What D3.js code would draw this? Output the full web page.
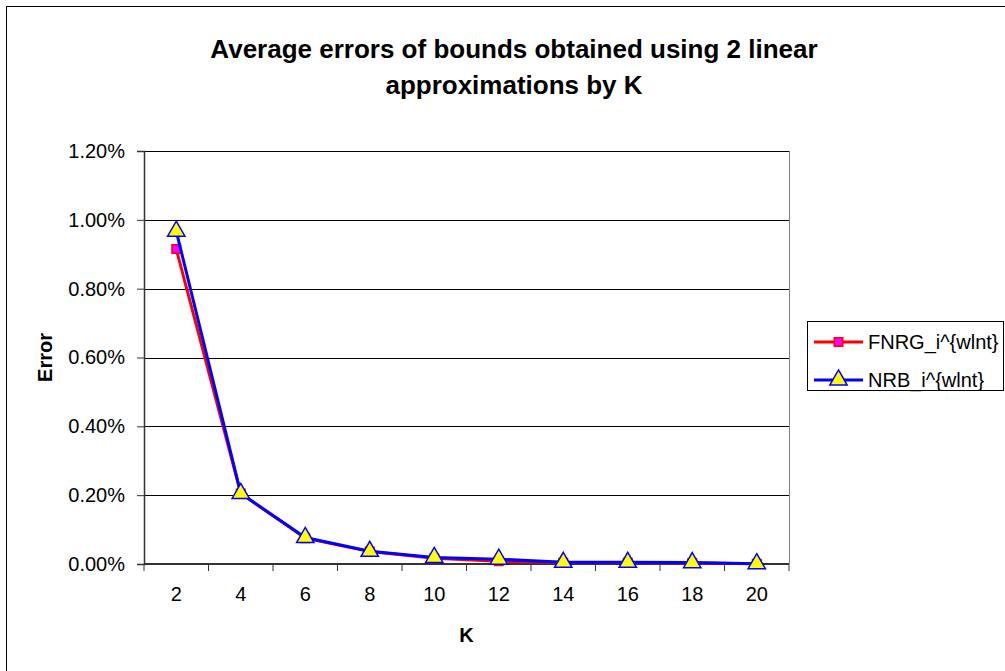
<!DOCTYPE html>
<html>
<head>
<meta charset="utf-8">
<script src="https://cdn.jsdelivr.net/npm/d3@7"></script>
<style>
  body { margin: 0; background: #fff; }
  svg { display: block; font-family: Arial, "Liberation Sans", sans-serif; }
</style>
</head>
<body>
<svg id="chart" width="1005" height="671"></svg>
<script>
// values (fractions, shown as %)
const kValues = ['2', '4', '6', '8', '10', '12', '14', '16', '18', '20'];
const fnrgValues = [0.00915, 0.00205, 0.00075, 0.00036, 0.00017, 0.00008, 0.00004, 0.00004, 0.00003, 0.00001];
const nrbValues = [0.00967, 0.00205, 0.00077, 0.00037, 0.00019, 0.00014, 0.00005, 0.00005, 0.00004, 0.00001];
const yTicks = [0, 0.002, 0.004, 0.006, 0.008, 0.010, 0.012];
const seriesNames = ['FNRG_i^{wlnt}', 'NRB_i^{wlnt}'];
const titleLines = ['Average errors of bounds obtained using 2 linear', 'approximations by K'];

const svg = d3.select('#chart');

const plot = { left: 144, right: 789, top: 151, bottom: 564 };

const xScale = d3.scaleBand()
  .domain(kValues)
  .range([plot.left, plot.right]);

const yScale = d3.scaleLinear()
  .domain([0, 0.012])
  .range([plot.bottom, plot.top]);

const pct = d3.format('.2%');

// outer chart frame (runs off the right and bottom edge like the reference)
svg.append('rect')
  .attr('x', 6.5).attr('y', 6.5)
  .attr('width', 1020).attr('height', 680)
  .attr('fill', 'none')
  .attr('stroke', '#000');

// title
const title = svg.append('text')
  .attr('text-anchor', 'middle')
  .attr('font-weight', 'bold')
  .attr('font-size', 26)
  .attr('fill', '#000');
title.selectAll('tspan')
  .data(titleLines)
  .join('tspan')
    .attr('x', 514)
    .attr('y', (d, i) => 58 + i * 36)
    .text(d => d);

// gridlines
svg.append('g')
  .selectAll('line')
  .data(yTicks.filter(d => d > 0))
  .join('line')
    .attr('x1', plot.left).attr('x2', plot.right)
    .attr('y1', d => Math.round(yScale(d)) + 0.5)
    .attr('y2', d => Math.round(yScale(d)) + 0.5)
    .attr('stroke', '#000')
    .attr('stroke-width', 1);

// right border of the plot area
svg.append('line')
  .attr('x1', plot.right + 0.5).attr('x2', plot.right + 0.5)
  .attr('y1', plot.top).attr('y2', plot.bottom)
  .attr('stroke', '#808080');

// y axis
const yAxis = d3.axisLeft(yScale)
  .tickValues(yTicks)
  .tickFormat(pct)
  .tickSize(7)
  .tickPadding(12);

const yG = svg.append('g')
  .attr('transform', `translate(${plot.left},0)`)
  .call(yAxis);
yG.select('.domain').attr('stroke', '#333').attr('stroke-width', 1.5);
yG.selectAll('.tick line').attr('stroke', '#333');
yG.selectAll('.tick text')
  .attr('font-size', 20)
  .attr('font-family', 'Arial, "Liberation Sans", sans-serif')
  .attr('fill', '#000');

// x axis: ticks sit on band edges
const xG = svg.append('g')
  .attr('transform', `translate(0,${plot.bottom})`);
xG.append('line')
  .attr('x1', plot.left).attr('x2', plot.right)
  .attr('stroke', '#333').attr('stroke-width', 2);
xG.selectAll('.edge')
  .data(kValues.concat(['end']))
  .join('line')
    .attr('class', 'edge')
    .attr('x1', (d, i) => plot.left + i * xScale.bandwidth())
    .attr('x2', (d, i) => plot.left + i * xScale.bandwidth())
    .attr('y1', 0).attr('y2', 7)
    .attr('stroke', '#333');
xG.selectAll('.lab')
  .data(kValues)
  .join('text')
    .attr('class', 'lab')
    .attr('x', d => xScale(d) + xScale.bandwidth() / 2)
    .attr('y', 37)
    .attr('text-anchor', 'middle')
    .attr('font-size', 20)
    .attr('fill', '#000')
    .text(d => d);

// axis titles
svg.append('text')
  .attr('x', (plot.left + plot.right) / 2)
  .attr('y', 642)
  .attr('text-anchor', 'middle')
  .attr('font-weight', 'bold')
  .attr('font-size', 20)
  .text('K');

svg.append('text')
  .attr('transform', `translate(52,${(plot.top + plot.bottom) / 2}) rotate(-90)`)
  .attr('text-anchor', 'middle')
  .attr('font-weight', 'bold')
  .attr('font-size', 20)
  .text('Error');

// series
const cx = d => xScale(d) + xScale.bandwidth() / 2;
const line = d3.line()
  .x(d => cx(d.k))
  .y(d => yScale(d.v));

const fnrg = kValues.map((k, i) => ({ k: k, v: fnrgValues[i] }));
const nrb = kValues.map((k, i) => ({ k: k, v: nrbValues[i] }));

const square = d3.symbol().type(d3.symbolSquare).size(72);
const triangle = d3.symbol().type(d3.symbolTriangle).size(130);

svg.append('path')
  .datum(fnrg)
  .attr('d', line)
  .attr('fill', 'none')
  .attr('stroke', '#ff0000')
  .attr('stroke-width', 3);

svg.append('g')
  .selectAll('path')
  .data(fnrg)
  .join('path')
    .attr('transform', d => `translate(${cx(d.k)},${yScale(d.v)})`)
    .attr('d', square)
    .attr('fill', '#ff00ff')
    .attr('stroke', '#ff0000')
    .attr('stroke-width', 1.5);

svg.append('path')
  .datum(nrb)
  .attr('d', line)
  .attr('fill', 'none')
  .attr('stroke', '#0000ff')
  .attr('stroke-width', 3);

svg.append('g')
  .selectAll('path')
  .data(nrb)
  .join('path')
    .attr('transform', d => `translate(${cx(d.k)},${yScale(d.v)})`)
    .attr('d', triangle)
    .attr('fill', '#ffff00')
    .attr('stroke', '#0000ff')
    .attr('stroke-width', 1.5);

// legend
const legend = svg.append('g');
legend.append('rect')
  .attr('x', 807.5).attr('y', 321.5)
  .attr('width', 196).attr('height', 69)
  .attr('fill', '#fff')
  .attr('stroke', '#000');

const legendRows = [
  { name: seriesNames[0], color: '#ff0000', fill: '#ff00ff', sym: square, y: 342 },
  { name: seriesNames[1], color: '#0000ff', fill: '#ffff00', sym: triangle, y: 380 }
];

const row = legend.selectAll('.row')
  .data(legendRows)
  .join('g')
    .attr('class', 'row');
row.append('line')
  .attr('x1', 814).attr('x2', 863)
  .attr('y1', d => d.y).attr('y2', d => d.y)
  .attr('stroke', d => d.color)
  .attr('stroke-width', 3);
row.append('path')
  .attr('transform', d => `translate(838.5,${d.y})`)
  .attr('d', d => d.sym())
  .attr('fill', d => d.fill)
  .attr('stroke', d => d.color)
  .attr('stroke-width', 1.5);
row.append('text')
  .attr('x', 868)
  .attr('y', d => d.y + 7)
  .attr('font-size', 20)
  .attr('fill', '#000')
  .text(d => d.name);
</script>
</body>
</html>
